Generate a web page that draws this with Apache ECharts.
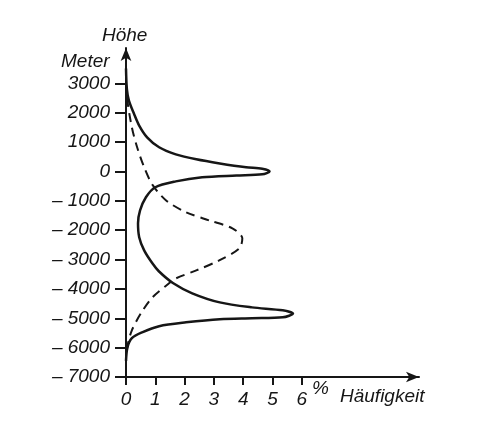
<!DOCTYPE html>
<html>
<head>
<meta charset="utf-8">
<script src="https://cdn.jsdelivr.net/npm/echarts@6/dist/echarts.min.js"></script>
<style>html,body{margin:0;padding:0;background:#fff;}#c{width:498px;height:435px;}</style>
</head>
<body>
<div id="c"></div>
<script>
// Höhe (m) ticks and Häufigkeit (%) ticks
const yTicks = [-7000, -6000, -5000, -4000, -3000, -2000, -1000, 0, 1000, 2000, 3000];
const xTicks = [0, 1, 2, 3, 4, 5, 6];

// Solid curve: observed frequency of Earth's surface elevations [%, m]
const solidPct = [0, 0.03, 0.1, 0.27, 0.45, 0.72, 1.13, 1.7, 2.4, 3.2, 4.1, 4.65, 4.9, 4.65, 3.77, 2.6, 1.7, 1.0, 0.68, 0.48, 0.41, 0.45, 0.62, 0.9, 1.12, 1.6, 2.26, 3.2, 4.3, 5.35, 5.7, 5.35, 4.3, 3.2, 2.05, 1.13, 0.55, 0.2, 0.05, 0];
const solidHeight = [3500, 2800, 2410, 1970, 1560, 1160, 820, 580, 410, 270, 140, 90, 0, -100, -140, -200, -340, -540, -880, -1330, -1770, -2240, -2690, -3130, -3400, -3800, -4150, -4460, -4630, -4730, -4840, -4970, -5000, -5030, -5140, -5270, -5480, -5680, -5990, -6450];

// Dashed curve: normal (Gaussian) distribution [%, m]
const dashedPct = [0, 0.03, 0.2, 0.38, 0.62, 0.9, 1.37, 2.05, 2.84, 3.63, 3.97, 3.87, 3.18, 2.4, 1.71, 1.47, 0.9, 0.51, 0.2, 0.07, 0];
const dashedHeight = [3000, 2520, 1500, 820, 140, -450, -990, -1390, -1670, -1940, -2280, -2620, -3030, -3370, -3640, -3810, -4290, -4830, -5410, -5850, -6250];

const solidData = solidPct.map((v, i) => [v, solidHeight[i]]);
const dashedData = dashedPct.map((v, i) => [v, dashedHeight[i]]);

const FONT = 'Liberation Sans';
const INK = '#161616';

const chart = echarts.init(document.getElementById('c'));
chart.setOption({
  backgroundColor: '#fff',
  animation: false,
  grid: { left: 126, right: 79, top: 48, bottom: 58 },
  xAxis: {
    type: 'value', min: 0, max: 10,
    axisLine: { show: true, onZero: false, symbol: ['none', 'arrow'], symbolSize: [8, 13], lineStyle: { color: INK, width: 2 } },
    axisTick: { show: true, length: 8, lineStyle: { color: INK, width: 2 }, customValues: xTicks },
    axisLabel: { customValues: xTicks, margin: 13, color: INK, fontFamily: FONT, fontStyle: 'italic', fontSize: 19 },
    splitLine: { show: false }
  },
  yAxis: {
    type: 'value', min: -7000, max: 4200,
    axisLine: { show: true, onZero: false, symbol: ['none', 'arrow'], symbolSize: [8, 13], lineStyle: { color: INK, width: 2 } },
    axisTick: { show: true, length: 11, lineStyle: { color: INK, width: 2 }, customValues: yTicks },
    axisLabel: {
      customValues: yTicks, margin: 16, color: INK, fontFamily: FONT, fontStyle: 'italic', fontSize: 19,
      formatter: v => v < 0 ? '\u2013 ' + Math.abs(v) : String(v)
    },
    splitLine: { show: false }
  },
  series: [
    { type: 'line', data: solidData, smooth: 0.3, showSymbol: false, lineStyle: { color: INK, width: 2.5 } },
    { type: 'line', data: dashedData, smooth: 0.3, showSymbol: false, lineStyle: { color: INK, width: 2, type: [9, 6] } }
  ],
  graphic: [
    { type: 'text', left: 102, top: 26, style: { text: 'Höhe', fill: INK, font: 'italic 19px "Liberation Sans"' } },
    { type: 'text', left: 61, top: 52, style: { text: 'Meter', fill: INK, font: 'italic 19px "Liberation Sans"' } },
    { type: 'text', left: 312, top: 379, style: { text: '%', fill: INK, font: 'italic 19px "Liberation Sans"' } },
    { type: 'text', left: 340, top: 387, style: { text: 'Häufigkeit', fill: INK, font: 'italic 19px "Liberation Sans"' } }
  ]
});
</script>
</body>
</html>
